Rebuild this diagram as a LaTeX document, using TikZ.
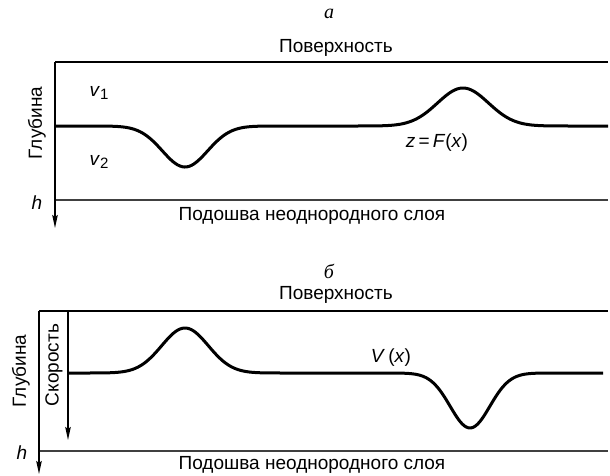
\documentclass[tikz,border=0pt]{standalone}
\usepackage{fontspec}
\setmainfont{Liberation Sans}
\newfontfamily\serifit{Liberation Serif}
\usetikzlibrary{arrows.meta}
\begin{document}
\begin{tikzpicture}[x=1pt,y=-1pt,
  lbl/.style={font=\fontsize{19}{22}\selectfont, inner sep=0pt},
  ttl/.style={font=\fontsize{20}{22}\selectfont\serifit\itshape, inner sep=0pt},
  frame/.style={line width=1.4pt},
  base/.style={line width=1.4pt, draw=black!75},
  curve/.style={line width=3pt, line join=round},
  axis/.style={line width=1.4pt, -{Stealth[length=13pt,width=5.5pt,inset=2pt]}}]
\useasboundingbox (0,0) rectangle (610,475);
\newcommand{\sub}[1]{\raisebox{-0.35ex}{\fontsize{15}{17}\selectfont #1}}
% ---------- panel a ----------
\node[ttl] (ta) at (329,14) {a};
\node[lbl] (surfa) at (336,48) {Поверхность};
\coordinate (a0) at (55,62);
\coordinate (a1) at (608,62);
\coordinate (a2) at (55,228);
\coordinate (b0) at (55,200);
\coordinate (b1) at (608,200);
\draw[frame] (a0) -- (a1);
\draw[base] (b0) -- (b1);
\draw[curve] plot[domain=55:608, samples=240]
  (\x, {126 + 41*exp(-min(((\x-185)/32)^2,20)) - 38*exp(-min(((\x-463)/36)^2,20))});
\draw[axis] (a0) -- (a2);
\node[lbl, rotate=90] (deptha) at (37,123) {Глубина};
\node[lbl] (v1) at (99,93) {\textit{v}\sub{1}};
\node[lbl] (v2) at (99,162) {\textit{v}\sub{2}};
\node[lbl] (ha) at (37,203) {\textit{h}};
\node[lbl] (zf) at (437,143) {\textit{z}\,=\,\textit{F}(\textit{x})};
\node[lbl] (bota) at (312,216) {Подошва неоднородного слоя};
% ---------- panel b ----------
\node[ttl] (tb) at (329,271) {б};
\node[lbl] (surfb) at (336,295) {Поверхность};
\coordinate (c0) at (39,311);
\coordinate (c1) at (608,311);
\coordinate (c2) at (39,474);
\coordinate (d0) at (39,451);
\coordinate (d1) at (608,451);
\coordinate (e0) at (68,311);
\coordinate (e1) at (68,440);
\draw[frame] (c0) -- (c1);
\draw[base] (d0) -- (d1);
\draw[curve] plot[domain=68:603, samples=240]
  (\x, {373 - 45*exp(-min(((\x-185)/33)^2,20)) + 55*exp(-min(((\x-470)/28)^2,20))});
\draw[axis] (c0) -- (c2);
\draw[axis] (e0) -- (e1);
\node[lbl, rotate=90] (depthb) at (21,371) {Глубина};
\node[lbl, rotate=90] (speed) at (54,365) {Скорость};
\node[lbl] (hb) at (22,453) {\textit{h}};
\node[lbl] (vx) at (391,358) {\textit{V}\,(\textit{x})};
\node[lbl] (botb) at (312,465) {Подошва неоднородного слоя};
\end{tikzpicture}
\end{document}
